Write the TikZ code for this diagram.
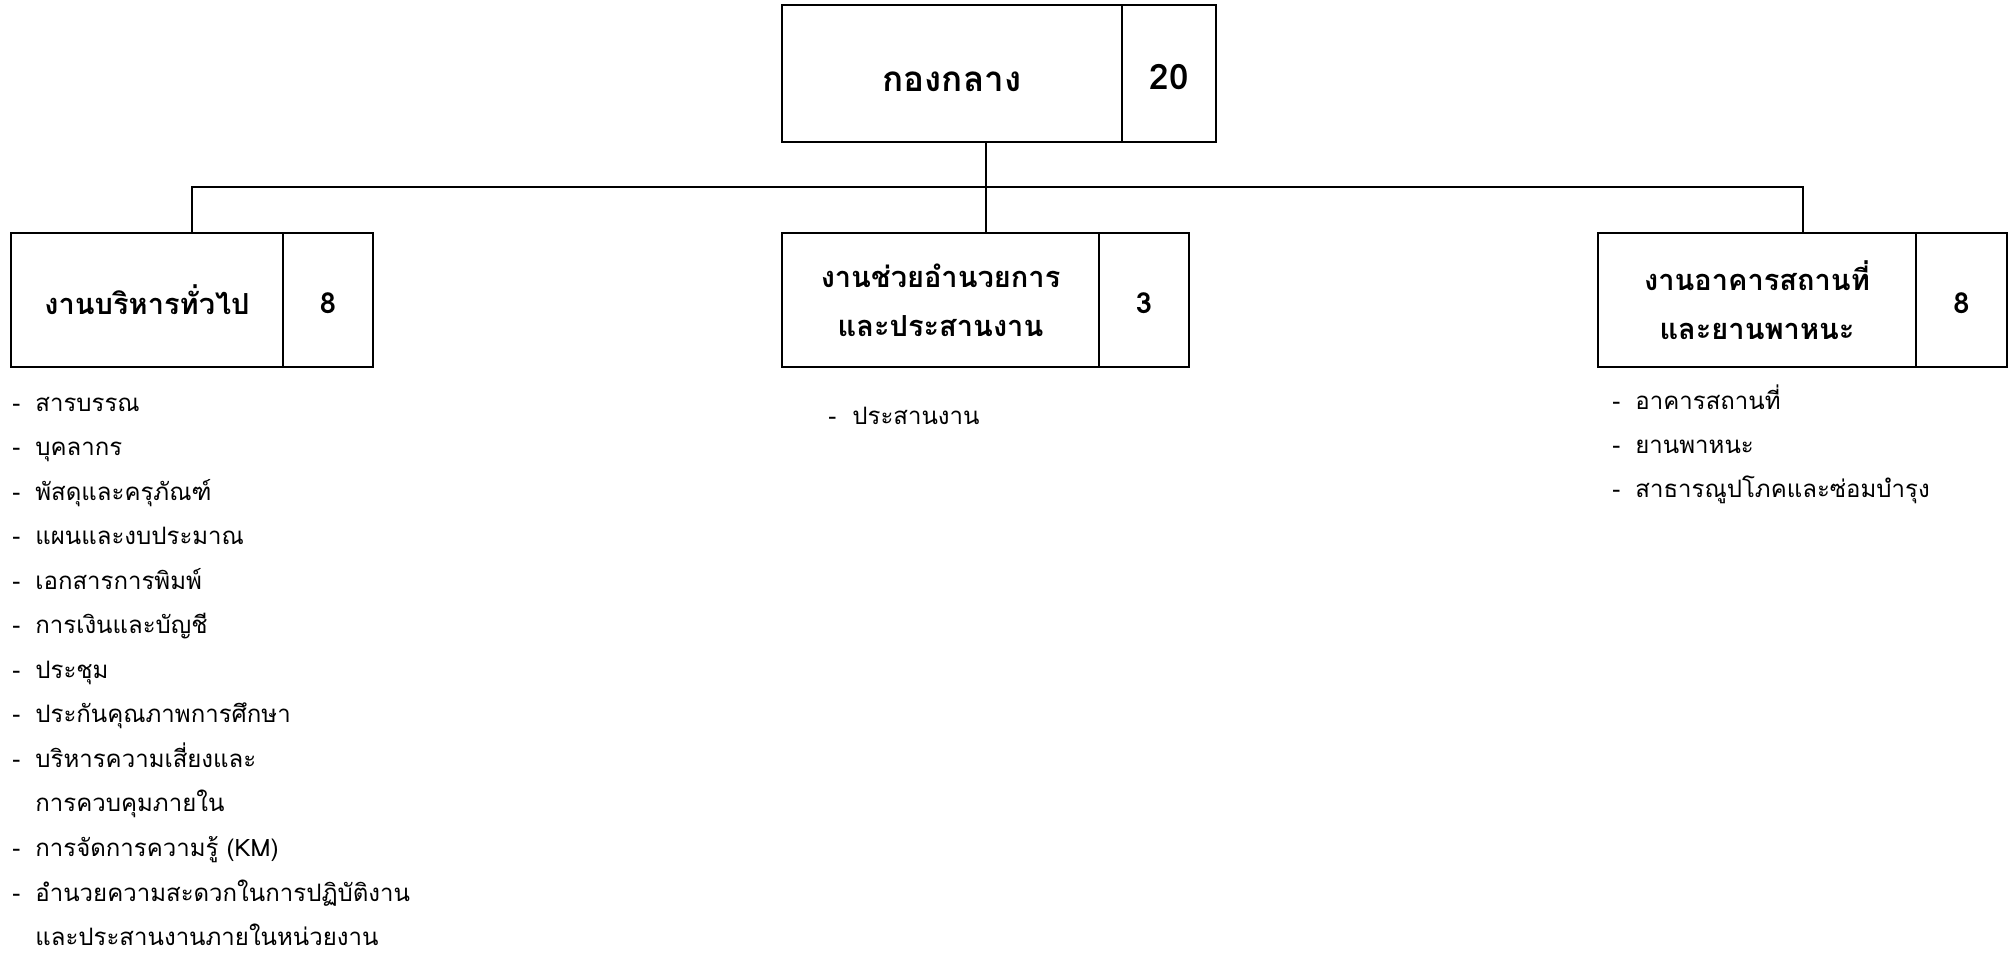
\documentclass[tikz,border=0pt]{standalone}
\usepackage{fontspec}
\newfontfamily\thaifont[Script=Thai]{Loma}
\usetikzlibrary{positioning,calc}
\newcommand{\lowertext}[2]{\raisebox{-#1}[\height][\depth]{#2}}

\begin{document}
\begin{tikzpicture}[x=0.5pt,y=-0.5pt,
	unitbox/.style={draw, line width=1pt, rectangle, outer sep=0pt, inner sep=0pt, align=center,
		font=\thaifont\bfseries\fontsize{14.5}{24.3}\selectfont},
	topbox/.style={unitbox, font=\thaifont\bfseries\fontsize{17.5}{24}\selectfont},
	link/.style={line width=1pt},
	item/.style={anchor=base west, inner sep=0pt, font=\thaifont\fontsize{12}{15}\selectfont}]

	\useasboundingbox (0,0) rectangle (2009,953);

	% main unit
	\node[topbox, anchor=north west, minimum width=170pt, minimum height=68.5pt] (office) at (782,5) {\lowertext{4.25pt}{กองกลาง}};
	\node[topbox, right=0pt of office, minimum width=47pt, minimum height=68.5pt] (officeN) {\lowertext{1.9pt}{20}};

	% sections
	\node[unitbox, anchor=north west, minimum width=136pt, minimum height=67pt] (gen) at (11,233) {งานบริหารทั่วไป};
	\node[unitbox, right=0pt of gen, minimum width=45pt, minimum height=67pt] (genN) {\lowertext{1.5pt}{8}};

	\node[unitbox, anchor=north west, minimum width=158.5pt, minimum height=67pt] (mid) at (782,233) {งานช่วยอำนวยการ\\และประสานงาน};
	\node[unitbox, right=0pt of mid, minimum width=45pt, minimum height=67pt] (midN) {\lowertext{1.5pt}{3}};

	\node[unitbox, anchor=north west, minimum width=159pt, minimum height=67pt] (bld) at (1598,233) {งานอาคารสถานที่\\และยานพาหนะ};
	\node[unitbox, right=0pt of bld, minimum width=45.5pt, minimum height=67pt] (bldN) {\lowertext{1.5pt}{8}};

	% connectors
	\coordinate (genT) at ($(gen.north west)!0.5!(genN.north east)$);
	\coordinate (midT) at ($(mid.north west)!0.5!(midN.north east)$);
	\coordinate (bldT) at ($(bld.north west)!0.5!(bldN.north east)$);
	\coordinate (bus) at (986,187);

	\draw[link] (office.south -| midT) -- (midT);
	\draw[link] (genT) -- (genT |- bus) -- (bldT |- bus) -- (bldT);

	% task lists
	\foreach \d/\txt [count=\i from 0] in {-/สารบรรณ, -/บุคลากร, -/พัสดุและครุภัณฑ์, -/แผนและงบประมาณ,
		-/เอกสารการพิมพ์, -/การเงินและบัญชี, -/ประชุม, -/ประกันคุณภาพการศึกษา,
		-/บริหารความเสี่ยงและ, {}/การควบคุมภายใน, -/การจัดการความรู้ (KM),
		-/อำนวยความสะดวกในการปฏิบัติงาน, {}/และประสานงานภายในหน่วยงาน}
	{
		\node[item] (genD\i) at (12,{411+44.55*\i}) {\d};
		\node[item] (genL\i) at (35,{411+44.55*\i}) {\txt};
	}

	\node[item] (midD0) at (828,424) {-};
	\node[item] (midL0) at (852,424) {ประสานงาน};

	\foreach \txt [count=\i from 0] in {อาคารสถานที่, ยานพาหนะ, สาธารณูปโภคและซ่อมบำรุง}
	{
		\node[item] (bldD\i) at (1612,{409.5+43.8*\i}) {-};
		\node[item] (bldL\i) at (1635,{409.5+43.8*\i}) {\txt};
	}

\end{tikzpicture}
\end{document}
